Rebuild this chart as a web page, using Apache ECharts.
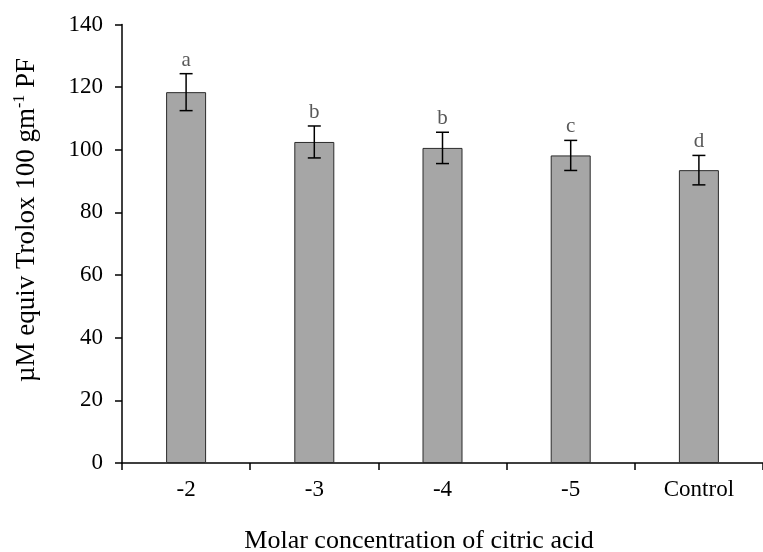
<!DOCTYPE html>
<html>
<head>
<meta charset="utf-8">
<script src="https://cdn.jsdelivr.net/npm/echarts@6/dist/echarts.min.js"></script>
<style>
html,body{margin:0;padding:0;background:#fff;}
#chart{width:763px;height:552px;}
</style>
</head>
<body>
<div id="chart"></div>
<script>
// ---- data ----
var categories = ['-2', '-3', '-4', '-5', 'Control'];
var means = [118.4, 102.5, 100.6, 98.2, 93.5];
var errors = [5.9, 5.1, 5.0, 4.8, 4.7];
var letters = ['a', 'b', 'b', 'c', 'd'];
var yTicks = { min: 0, max: 140, interval: 20 };
var xTitle = 'Molar concentration of citric acid';
var yTitleParts = ['µM equiv Trolox 100 gm', '-1', ' PF'];

var FONT = '"Liberation Serif", "Times New Roman", serif';

var errData = means.map(function (m, i) { return [i, m, errors[i], letters[i]]; });

var chart = echarts.init(document.getElementById('chart'), null, { renderer: 'canvas' });

chart.setOption({
  animation: false,
  backgroundColor: '#ffffff',
  grid: { left: 122, right: -4, top: 24.5, bottom: 89, containLabel: false },
  xAxis: {
    type: 'category',
    data: categories,
    boundaryGap: true,
    axisLine: { show: true, lineStyle: { color: '#000', width: 1.5 } },
    axisTick: { show: true, length: 7, alignWithLabel: false, lineStyle: { color: '#000', width: 1.5 } },
    axisLabel: { color: '#000', fontFamily: FONT, fontSize: 23, margin: 15 },
    splitLine: { show: false }
  },
  yAxis: {
    type: 'value',
    min: yTicks.min, max: yTicks.max, interval: yTicks.interval,
    axisLine: { show: true, lineStyle: { color: '#000', width: 1.5 } },
    axisTick: { show: true, length: 7, inside: false, lineStyle: { color: '#000', width: 1.5 } },
    axisLabel: { color: '#000', fontFamily: FONT, fontSize: 23, margin: 19 },
    splitLine: { show: false }
  },
  series: [
    {
      type: 'bar',
      data: means,
      barWidth: 40,
      itemStyle: { color: '#a6a6a6', borderColor: '#2b2b2b', borderWidth: 1 },
      z: 2
    },
    {
      type: 'custom',
      data: errData,
      z: 5,
      renderItem: function (params, api) {
        var i = api.value(0), m = api.value(1), e = api.value(2);
        var top = api.coord([i, m + e]);
        var bot = api.coord([i, m - e]);
        var hw = 6.5;
        var ls = { stroke: '#000', lineWidth: 1.5 };
        return {
          type: 'group',
          children: [
            { type: 'line', shape: { x1: top[0], y1: top[1], x2: bot[0], y2: bot[1] }, style: ls },
            { type: 'line', shape: { x1: top[0] - hw, y1: top[1], x2: top[0] + hw, y2: top[1] }, style: ls },
            { type: 'line', shape: { x1: bot[0] - hw, y1: bot[1], x2: bot[0] + hw, y2: bot[1] }, style: ls },
            { type: 'text', x: top[0], y: top[1] - 3,
              style: { text: letters[params.dataIndex], fill: '#595959', font: '21px ' + FONT, align: 'center', verticalAlign: 'bottom' } }
          ]
        };
      }
    }
  ],
  graphic: [
    {
      type: 'text',
      x: 419, y: 541,
      style: { text: xTitle, fill: '#000', font: '26px ' + FONT, align: 'center', verticalAlign: 'middle' }
    },
    {
      type: 'text',
      x: 27, y: 220,
      rotation: Math.PI / 2,
      style: {
        text: '{n|' + yTitleParts[0] + '}{s|' + yTitleParts[1] + '}{n|' + yTitleParts[2] + '}',
        fill: '#000',
        align: 'center', verticalAlign: 'middle',
        rich: {
          n: { fontSize: 27, fontFamily: FONT, fill: '#000', color: '#000', lineHeight: 30 },
          s: { fontSize: 16, fontFamily: FONT, fill: '#000', color: '#000', verticalAlign: 'top', lineHeight: 30 }
        }
      }
    }
  ]
});
</script>
</body>
</html>
